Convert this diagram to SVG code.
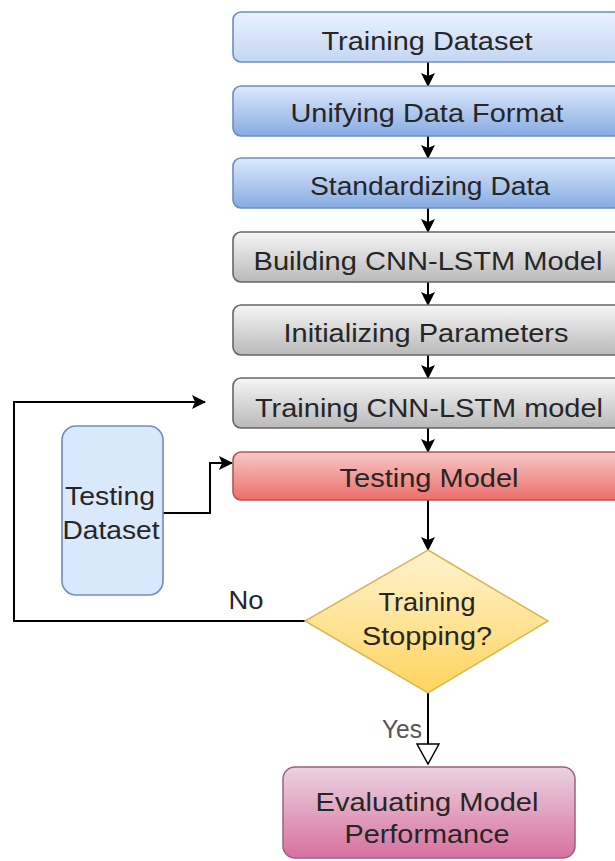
<svg xmlns="http://www.w3.org/2000/svg" width="615" height="861" viewBox="0 0 615 861">
  <defs>
    <linearGradient id="gBlueLight" x1="0" y1="0" x2="0" y2="1">
      <stop offset="0" stop-color="#eaf1fc"/>
      <stop offset="1" stop-color="#c3d6f3"/>
    </linearGradient>
    <linearGradient id="gBlue" x1="0" y1="0" x2="0" y2="1">
      <stop offset="0" stop-color="#dde9fb"/>
      <stop offset="1" stop-color="#86abe3"/>
    </linearGradient>
    <linearGradient id="gGray" x1="0" y1="0" x2="0" y2="1">
      <stop offset="0" stop-color="#f6f6f6"/>
      <stop offset="1" stop-color="#b9b9b9"/>
    </linearGradient>
    <linearGradient id="gRed" x1="0" y1="0" x2="0" y2="1">
      <stop offset="0" stop-color="#f6c9c7"/>
      <stop offset="1" stop-color="#ec6e6a"/>
    </linearGradient>
    <linearGradient id="gYellow" x1="0" y1="0" x2="0" y2="1">
      <stop offset="0" stop-color="#fff3cf"/>
      <stop offset="1" stop-color="#ffd45e"/>
    </linearGradient>
    <linearGradient id="gPink" x1="0" y1="0" x2="0" y2="1">
      <stop offset="0" stop-color="#ead3e1"/>
      <stop offset="1" stop-color="#d8709f"/>
    </linearGradient>
    <marker id="arrow" viewBox="0 0 14 14" refX="13" refY="7" markerWidth="14" markerHeight="14" markerUnits="userSpaceOnUse" orient="auto">
      <path d="M0,0 L14,7 L0,14 L3,7 Z" fill="#000"/>
    </marker>
    <marker id="openTri" viewBox="0 0 22 24" refX="21" refY="12" markerWidth="22" markerHeight="24" markerUnits="userSpaceOnUse" orient="auto">
      <path d="M1,1 L21,12 L1,23 Z" fill="#fff" stroke="#000" stroke-width="1.5"/>
    </marker>
  </defs>
  <style>
    .box { stroke-width: 1.6; }
    .blue { stroke: #6c8ebf; }
    .gray { stroke: #666666; }
    .red { stroke: #b85450; }
    .label { font-family: "Liberation Sans", Arial, sans-serif; font-size: 25px; fill: #262626; text-anchor: middle; }
    .edge { fill: none; stroke: #000; stroke-width: 2; }
  </style>

  <rect width="615" height="861" fill="#ffffff"/>

  <!-- connectors -->
  <g id="connectors">
    <path class="edge" d="M428,62 V86" marker-end="url(#arrow)"/>
    <path class="edge" d="M428,136 V158" marker-end="url(#arrow)"/>
    <path class="edge" d="M428,208 V232" marker-end="url(#arrow)"/>
    <path class="edge" d="M428,282 V305" marker-end="url(#arrow)"/>
    <path class="edge" d="M428,355 V378" marker-end="url(#arrow)"/>
    <path class="edge" d="M428,428 V452" marker-end="url(#arrow)"/>
    <path class="edge" d="M428,500 V550" marker-end="url(#arrow)"/>
    <path class="edge" d="M163,513 H210 V463 H232" marker-end="url(#arrow)"/>
    <path class="edge" d="M305,621 H14 V402 H205" marker-end="url(#arrow)"/>
    <path class="edge" d="M428,693 V764" marker-end="url(#openTri)"/>
    <text class="label" x="246" y="609" textLength="35" lengthAdjust="spacingAndGlyphs">No</text>
    <text class="label" x="402" y="738" textLength="40" lengthAdjust="spacingAndGlyphs" style="fill:#555">Yes</text>
  </g>

  <g id="training-dataset">
    <rect class="box blue" x="233" y="12" width="392" height="50" rx="8" fill="url(#gBlueLight)"/>
    <text class="label" x="427" y="50" textLength="211" lengthAdjust="spacingAndGlyphs">Training Dataset</text>
  </g>
  <g id="unifying-data-format">
    <rect class="box blue" x="233" y="86" width="392" height="50" rx="8" fill="url(#gBlue)"/>
    <text class="label" x="427" y="122" textLength="273" lengthAdjust="spacingAndGlyphs">Unifying Data Format</text>
  </g>
  <g id="standardizing-data">
    <rect class="box blue" x="233" y="158" width="392" height="50" rx="8" fill="url(#gBlue)"/>
    <text class="label" x="430" y="195" textLength="240" lengthAdjust="spacingAndGlyphs">Standardizing Data</text>
  </g>
  <g id="building-model">
    <rect class="box gray" x="233" y="232" width="392" height="50" rx="8" fill="url(#gGray)"/>
    <text class="label" x="428" y="270" textLength="349" lengthAdjust="spacingAndGlyphs">Building CNN-LSTM Model</text>
  </g>
  <g id="initializing-parameters">
    <rect class="box gray" x="233" y="305" width="392" height="50" rx="8" fill="url(#gGray)"/>
    <text class="label" x="426" y="342" textLength="285" lengthAdjust="spacingAndGlyphs">Initializing Parameters</text>
  </g>
  <g id="training-model">
    <rect class="box gray" x="233" y="378" width="392" height="50" rx="8" fill="url(#gGray)"/>
    <text class="label" x="429" y="417" textLength="348" lengthAdjust="spacingAndGlyphs">Training CNN-LSTM model</text>
  </g>
  <g id="testing-model">
    <rect class="box red" x="233" y="452" width="392" height="48" rx="8" fill="url(#gRed)"/>
    <text class="label" x="429" y="487" textLength="179" lengthAdjust="spacingAndGlyphs">Testing Model</text>
  </g>
  <g id="testing-dataset">
    <rect class="box blue" x="62" y="426" width="101" height="169" rx="14" fill="#dae8fc"/>
    <text class="label" x="110" y="505" textLength="90" lengthAdjust="spacingAndGlyphs">Testing</text>
    <text class="label" x="111" y="539" textLength="97" lengthAdjust="spacingAndGlyphs">Dataset</text>
  </g>
  <g id="training-stopping">
    <path d="M428,550 L548,621 L428,693 L305,621 Z" fill="url(#gYellow)" stroke="#d6b656" stroke-width="1.5"/>
    <text class="label" x="427" y="611" textLength="97" lengthAdjust="spacingAndGlyphs">Training</text>
    <text class="label" x="427" y="645" textLength="130" lengthAdjust="spacingAndGlyphs">Stopping?</text>
  </g>
  <g id="evaluating-performance">
    <rect x="283" y="767" width="292" height="91" rx="12" fill="url(#gPink)" stroke="#996185" stroke-width="1.5"/>
    <text class="label" x="427" y="811" textLength="223" lengthAdjust="spacingAndGlyphs">Evaluating Model</text>
    <text class="label" x="427" y="843" textLength="165" lengthAdjust="spacingAndGlyphs">Performance</text>
  </g>
</svg>
